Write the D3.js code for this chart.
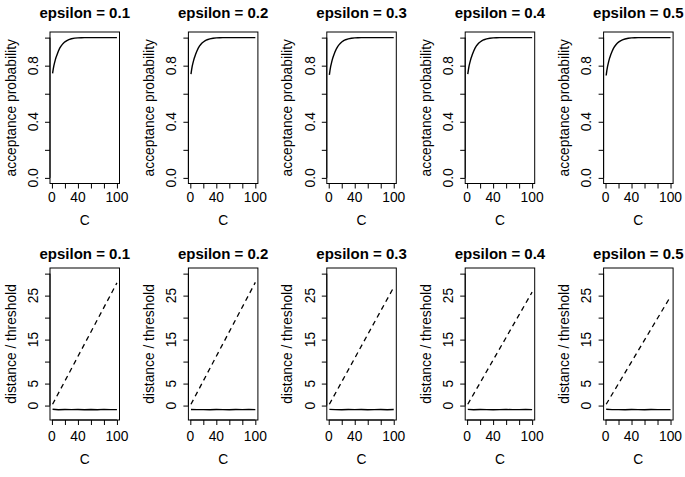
<!DOCTYPE html>
<html><head><meta charset="utf-8">
<script src="https://cdn.jsdelivr.net/npm/d3@7"></script>
<style>body{margin:0;background:#fff}svg{display:block}text{font-family:"Liberation Sans",Arial,Helvetica,sans-serif;fill:#000}</style>
</head><body><svg id="c" width="685" height="477"></svg>
<script>
const epsilons = ["0.1","0.2","0.3","0.4","0.5"];
// top row: acceptance probability vs C
const cTop = [1,2,3,4,5,6,7,8,10,12,14,16,18,20,23,26,30,35,40,45,50,60,70,80,90,100];
const accept = [
  [0.745,0.775,0.800,0.820,0.838,0.855,0.868,0.880,0.905,0.925,0.940,0.952,0.962,0.970,0.979,0.986,0.992,0.996,0.998,0.999,1.0,1.0,1.0,1.0,1.0,1.0],
  [0.740,0.772,0.798,0.818,0.836,0.853,0.866,0.879,0.903,0.923,0.939,0.951,0.961,0.969,0.978,0.985,0.991,0.995,0.998,0.999,1.0,1.0,1.0,1.0,1.0,1.0],
  [0.735,0.768,0.795,0.815,0.834,0.851,0.865,0.878,0.902,0.922,0.938,0.950,0.960,0.969,0.978,0.985,0.991,0.995,0.998,0.999,1.0,1.0,1.0,1.0,1.0,1.0],
  [0.740,0.772,0.798,0.818,0.836,0.853,0.866,0.879,0.903,0.923,0.939,0.951,0.961,0.969,0.978,0.985,0.991,0.995,0.998,0.999,1.0,1.0,1.0,1.0,1.0,1.0],
  [0.730,0.765,0.792,0.813,0.832,0.850,0.864,0.877,0.901,0.921,0.937,0.949,0.960,0.968,0.977,0.984,0.990,0.995,0.998,0.999,1.0,1.0,1.0,1.0,1.0,1.0]
];
// bottom row: distance (solid) and threshold (dashed) vs C
const cBot = [1,10,20,30,40,50,60,70,80,90,100];
const distance = [
  [-0.85,-0.95,-0.90,-0.93,-0.88,-0.94,-0.90,-0.96,-0.87,-0.91,-0.92],
  [-0.88,-0.93,-0.91,-0.95,-0.89,-0.92,-0.94,-0.90,-0.93,-0.89,-0.91],
  [-0.86,-0.92,-0.94,-0.90,-0.93,-0.88,-0.95,-0.91,-0.90,-0.94,-0.90],
  [-0.87,-0.94,-0.90,-0.92,-0.95,-0.91,-0.89,-0.93,-0.92,-0.90,-0.93],
  [-0.85,-0.93,-0.91,-0.94,-0.90,-0.92,-0.95,-0.89,-0.93,-0.91,-0.92]
];
const cThr = [1,100];
const threshold = [[0.3,27.9],[0.3,28.0],[0.3,26.9],[0.3,25.8],[0.3,24.8]];
const xTicks = [0,20,40,60,80,100], xTickLabels = {0:"0",40:"40",100:"100"};
const yTicksTop = [0,0.2,0.4,0.6,0.8,1.0], yLabTop = {0:"0.0",0.4:"0.4",0.8:"0.8"};
const yTicksBot = [0,5,10,15,20,25,30], yLabBot = {0:"0",5:"5",15:"15",25:"25"};

const svg = d3.select("#c");
const colW = 138.4, boxL = 50, boxW = 69.5, fs = 13.8;
const rows = [
  {top:32, bot:183.5, dom:[0,1], ticks:yTicksTop, labs:yLabTop, ylab:"acceptance probability", title:17.5, xl:202, cl:225},
  {top:268, bot:420, dom:[-2,30], ticks:yTicksBot, labs:yLabBot, ylab:"distance / threshold", title:258.5, xl:441, cl:464}
];
function ext(d){const s=(d[1]-d[0])*0.04;return [d[0]-s,d[1]+s];}
rows.forEach((r,ri)=>{
  epsilons.forEach((ep,i)=>{
    const x0 = boxL + i*colW;
    const x = d3.scaleLinear().domain(ext([1,100])).range([x0,x0+boxW]);
    const y = d3.scaleLinear().domain(ext(r.dom)).range([r.bot,r.top]);
    const g = svg.append("g");
    // box
    g.append("rect").attr("x",x0).attr("y",r.top).attr("width",boxW).attr("height",r.bot-r.top)
      .attr("fill","none").attr("stroke","#000").attr("stroke-width",1);
    // x axis
    const xa = g.append("g").attr("transform",`translate(0,${r.bot})`)
      .call(d3.axisBottom(x).tickValues(xTicks).tickSize(5).tickFormat(""));
    xa.select(".domain").attr("d",`M${x(0)},0H${x(100)}`);
    xTicks.forEach(t=>{ if(xTickLabels[t]!==undefined)
      g.append("text").attr("x",x(t)).attr("y",r.xl).attr("text-anchor","middle").attr("font-size",fs).text(xTickLabels[t]);});
    g.append("text").attr("x",x0+boxW/2).attr("y",r.cl).attr("text-anchor","middle").attr("font-size",fs).text("C");
    // y axis
    const ya = g.append("g").attr("transform",`translate(${x0},0)`)
      .call(d3.axisLeft(y).tickValues(r.ticks).tickSize(5).tickFormat(""));
    ya.select(".domain").attr("d",`M0,${y(r.dom[0]<0?0:r.dom[0])}V${y(r.ticks[r.ticks.length-1])}`);
    r.ticks.forEach(t=>{ if(r.labs[t]!==undefined)
      g.append("text").attr("transform",`translate(${x0-12.3},${y(t)}) rotate(-90)`).attr("text-anchor","middle").attr("font-size",fs).text(r.labs[t]);});
    g.append("text").attr("transform",`translate(${x0-34.5},${(r.top+r.bot)/2}) rotate(-90)`).attr("text-anchor","middle").attr("font-size",fs).text(r.ylab);
    g.selectAll(".tick line").attr("stroke","#000");
    // title
    g.append("text").attr("x",x0+boxW/2).attr("y",r.title).attr("text-anchor","middle").attr("font-size",15).attr("font-weight","bold").text("epsilon = "+ep);
    const line = d3.line().x(d=>x(d[0])).y(d=>y(d[1]));
    if(ri===0){
      g.append("path").datum(cTop.map((c,k)=>[c,accept[i][k]])).attr("d",line).attr("fill","none").attr("stroke","#000").attr("stroke-width",1.4);
    } else {
      g.append("path").datum(cBot.map((c,k)=>[c,distance[i][k]])).attr("d",line).attr("fill","none").attr("stroke","#000").attr("stroke-width",1.4);
      g.append("path").datum(cThr.map((c,k)=>[c,threshold[i][k]])).attr("d",line).attr("fill","none").attr("stroke","#000").attr("stroke-width",1.3).attr("stroke-dasharray","5,4");
    }
  });
});
</script></body></html>
